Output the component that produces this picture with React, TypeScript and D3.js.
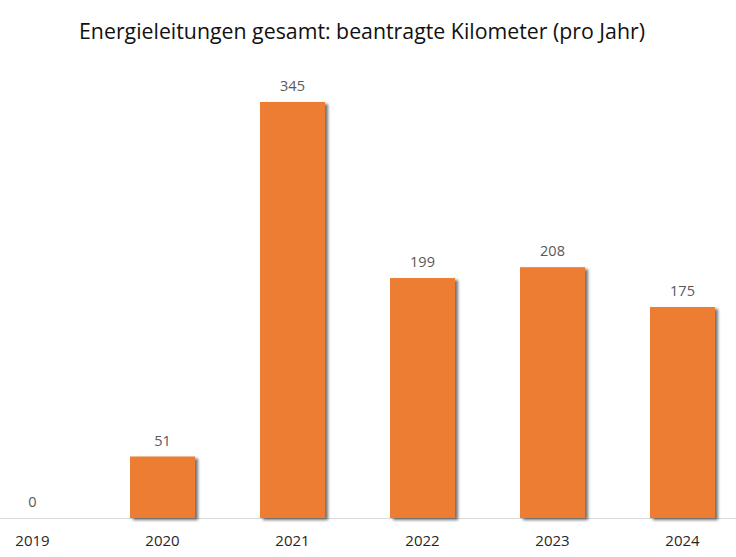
import React from "react";
import * as d3 from "d3";

const years = ["2019", "2020", "2021", "2022", "2023", "2024"];
const kilometers = [0, 51, 345, 199, 208, 175];
const title = "Energieleitungen gesamt: beantragte Kilometer (pro Jahr)";

const W = 736;
const H = 557;

export default function App() {
  const x = d3.scaleBand<string>().domain(years).range([-32.5, 747.5]).paddingInner(0.5).paddingOuter(0.25);
  const y = d3.scaleLinear().domain([0, 345]).range([518, 102]);
  const font = "'Open Sans', 'Noto Sans', sans-serif";
  return (
    <svg width={W} height={H} style={{ position: "absolute", left: 0, top: 0, background: "#fff" }} fontFamily={font}>
      <defs>
        <filter id="sh" x="-20%" y="-20%" width="150%" height="150%">
          <feDropShadow dx="3" dy="2" stdDeviation="1.8" floodColor="#000" floodOpacity="0.55" />
        </filter>
      </defs>
      <rect width={W} height={H} fill="#fff" />
      <text x={362} y={39} textAnchor="middle" fontSize={21} fill="#111" textLength={566} lengthAdjust="spacingAndGlyphs">
        {title}
      </text>
      <line x1={0} x2={W} y1={518.5} y2={518.5} stroke="#d9d9d9" strokeWidth={1} />
      {years.map((yr, i) => {
        const v = kilometers[i];
        const bx = x(yr)!;
        const bw = x.bandwidth();
        return (
          <g key={yr}>
            {v > 0 && (
              <rect x={bx} y={y(v)} width={bw} height={y(0) - y(v)} fill="#ED7D31" filter="url(#sh)" />
            )}
            <text x={bx + bw / 2} y={y(v) - 11} textAnchor="middle" fontSize={14.5} fill="#595959">
              {v}
            </text>
            <text x={bx + bw / 2} y={546} textAnchor="middle" fontSize={15} fill="#262626">
              {yr}
            </text>
          </g>
        );
      })}
    </svg>
  );
}
